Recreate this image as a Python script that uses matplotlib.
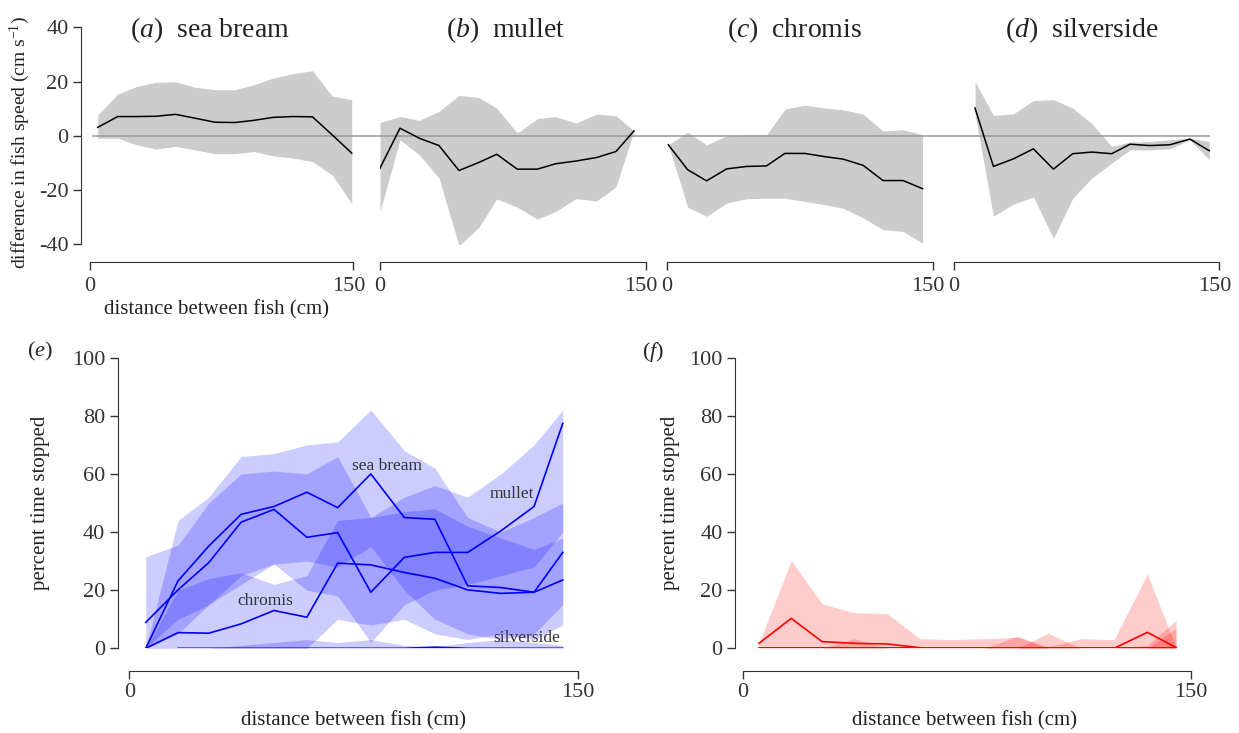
import numpy as np
import matplotlib
matplotlib.use('Agg')
import matplotlib.pyplot as plt
import matplotlib.transforms as mtransforms

plt.rcParams['font.family'] = 'Liberation Serif'
plt.rcParams['mathtext.fontset'] = 'custom'
plt.rcParams['mathtext.rm'] = 'Liberation Serif'
plt.rcParams['mathtext.it'] = 'Liberation Serif:italic'
plt.rcParams['axes.unicode_minus'] = False

TXT = '#333333'

# ---- top row: difference in fish speed (cm/s) vs distance (cm)
xa = [4.4, 15.8, 26.6, 37.4, 48.8, 59.8, 71.2, 82.6, 93.4, 104.4, 115.5, 126.7, 137.9, 149.1]
mid_a = [3.1, 7.1, 7.1, 7.2, 7.9, 6.5, 5.0, 4.9, 5.7, 6.8, 7.1, 7.0, 0.4, -6.4]
hi_a = [7.7, 15.4, 18.2, 19.7, 19.9, 17.9, 17.0, 17.0, 18.8, 21.3, 22.9, 24.0, 14.7, 13.3]
lo_a = [-0.9, -0.9, -3.3, -4.9, -3.9, -5.2, -6.6, -6.6, -5.8, -7.4, -8.2, -9.5, -14.4, -25.0]

xb = [0.0, 11.3, 22.2, 33.3, 44.6, 55.9, 65.9, 77.5, 88.8, 99.2, 110.6, 122.3, 133.2, 143.4]
mid_b = [-11.9, 2.8, -0.9, -3.6, -12.8, -9.8, -6.8, -12.3, -12.3, -10.3, -9.3, -8.0, -5.8, 1.8]
hi_b = [4.9, 7.1, 5.7, 9.0, 14.9, 14.1, 10.2, 1.0, 6.3, 7.1, 4.7, 8.0, 7.4, 1.8]
lo_b = [-27.9, -1.5, -7.0, -15.6, -40.5, -33.7, -23.3, -26.3, -30.7, -27.9, -23.2, -24.0, -18.9, 1.8]

xc = [0.9, 11.8, 22.5, 33.8, 45.0, 56.3, 66.6, 77.9, 89.2, 99.5, 110.8, 122.0, 133.3, 144.3]
mid_c = [-3.3, -12.5, -16.6, -12.2, -11.3, -11.1, -6.5, -6.5, -7.7, -8.6, -10.9, -16.5, -16.5, -19.5]
hi_c = [-3.3, 1.4, -3.3, 0.0, 0.4, 0.4, 9.8, 11.3, 10.2, 9.6, 8.0, 1.8, 2.2, 0.4]
lo_c = [-3.3, -26.3, -29.7, -24.8, -23.2, -23.0, -23.0, -24.2, -25.4, -26.7, -30.3, -34.6, -35.3, -39.6]

xd = [11.9, 22.3, 33.6, 44.9, 56.2, 67.1, 77.9, 89.2, 99.5, 110.8, 122.1, 133.4, 144.3]
mid_d = [10.2, -11.3, -8.5, -4.8, -12.3, -6.6, -6.0, -6.6, -3.1, -3.6, -3.3, -1.2, -5.5]
hi_d = [20.0, 7.5, 8.1, 13.0, 13.3, 10.2, 4.5, -3.9, -2.3, -2.1, -1.5, -0.9, -2.1]
lo_d = [8.0, -29.6, -25.2, -22.5, -37.8, -23.1, -15.6, -10.1, -5.2, -5.2, -4.8, -1.5, -8.8]

# ---- bottom row: percent time stopped
x_stop = [5.5, 16.3, 26.6, 37.4, 48.4, 59.4, 69.7, 80.8, 92.0, 102.2, 113.2, 124.3, 135.4, 145.0]

bream_e = [0, 23.2, 35.2, 46.1, 48.8, 53.7, 48.4, 60.0, 45.0, 44.4, 21.5, 20.9, 19.3, 33.0]
bream_e_lo = [0, 5, 15, 25, 29, 30, 28, 35, 20, 10, 5, 3, 5, 15]
bream_e_hi = [0, 44, 52, 66, 67, 70, 71, 82, 68, 62, 45, 40, 45, 50]

mullet_e = [8.9, 20.1, 29.5, 43.4, 47.8, 38.2, 39.8, 19.3, 31.3, 33.0, 33.0, 40.4, 48.8, 77.4]
mullet_e_lo = [0, 10, 15, 22, 29, 20, 18, 2, 15, 20, 22, 25, 28, 40]
mullet_e_hi = [31.5, 35.5, 50, 60, 61, 60, 66, 45, 52, 56, 52, 60, 70, 82]

chromis_e = [0, 5.4, 5.2, 8.4, 13.0, 10.7, 29.3, 28.7, 26.1, 24.1, 20.1, 18.9, 19.3, 23.5]
chromis_e_lo = [0, 0, 0, 0, 0, 0, 10, 8, 10, 5, 3, 5, 3, 8]
chromis_e_hi = [0, 20, 24, 26, 22, 25, 44, 45, 47, 48, 42, 38, 34, 38]

silver_e = [np.nan, 0, 0, 0, 0, 0, 0, 0, 0, 0.4, 0, 0, 0, 0]
silver_e_lo = [np.nan, 0, 0, 0, 0, 0, 0, 0, 0, 0, 0, 0, 0, 0]
silver_e_hi = [np.nan, 0, 0, 1, 2, 3, 2, 3, 1, 0.5, 2, 3, 2, 1]

f1 = [1.7, 10.3, 2.3, 1.7, 1.5, 0.2, 0, 0, 0, 0, 0, 0, 5.5, 0.3]
f1_hi = [1.7, 30.2, 15.3, 12.3, 11.9, 3.3, 3.0, 3.3, 3.8, 0.5, 3.3, 3.0, 25.6, 0.3]
f2 = [0, 0, 0, 0, 0, 0, 0, 0, 0, 0, 0, 0, 0, 0]
f2_hi = [0, 0, 0, 3.3, 0, 0, 0, 0, 4.2, 0, 0, 0, 0, 6.9]
f3 = [np.nan, 0, 0, 0, 0, 0, 0, 0, 0, 0, 0, 0, 0, 0]
f3_hi = [np.nan, 0, 0, 0, 0, 0, 0, 0, 0, 5.2, 0, 0, 1.0, 9.7]
zeros_f = [0] * 14

W, H = 1239, 733
fig = plt.figure(figsize=(W / 100, H / 100), dpi=100)
shift_left = mtransforms.ScaledTranslation(-5 / 100, 0, fig.dpi_scale_trans)


def px_axes(x0, x1, ytop, ybot):
    return fig.add_axes([x0 / W, 1 - ybot / H, (x1 - x0) / W, (ybot - ytop) / H])


def style_x(ax, off, pad):
    for s in ['top', 'right']:
        ax.spines[s].set_visible(False)
    ax.spines['bottom'].set_position(('outward', off))
    ax.spines['bottom'].set_bounds(0, 150)
    ax.spines['bottom'].set_color(TXT)
    ax.set_xlim(0, 150)
    ax.set_xticks([0, 150])
    ax.tick_params(axis='x', direction='out', length=6, width=1, colors=TXT,
                   labelsize=16, pad=pad)


def style_y(ax, off):
    ax.spines['left'].set_position(('outward', off))
    ax.spines['left'].set_color(TXT)
    ax.tick_params(axis='y', direction='out', length=6, width=1, colors=TXT,
                   labelsize=16, pad=3)


top = [
    (90, 353.3, xa, mid_a, lo_a, hi_a, 'a', 'sea bream', 0.456),
    (380, 645.7, xb, mid_b, lo_b, hi_b, 'b', 'mullet', 0.474),
    (666.7, 932.7, xc, mid_c, lo_c, hi_c, 'c', 'chromis', 0.482),
    (954, 1219.3, xd, mid_d, lo_d, hi_d, 'd', 'silverside', 0.4825),
]

for i, (x0, x1, x, mid, lo, hi, letter, name, tx) in enumerate(top):
    ax = px_axes(x0, x1, 27.3, 244.3)
    ax.fill_between(x, lo, hi, color='#cccccc', lw=0, zorder=1)
    ax.plot(x, mid, color='black', lw=1.1, zorder=3)
    ax.set_ylim(-40, 40)
    style_x(ax, 12.5, 5)
    # grey zero line running across the row
    if i < len(top) - 1:
        xmax = (top[i + 1][0] - x0) / (x1 - x0)
    else:
        xmax = (1209.3 - x0) / (x1 - x0)
    xmin = 0.01 if i == 0 else 0
    ax.axhline(0, xmin=xmin, xmax=xmax, color='#999999', lw=1.1, zorder=2, clip_on=False)
    ax.text(tx, 0.985, r'($\mathit{%s}$)  %s' % (letter, name), transform=ax.transAxes,
            ha='center', va='center', fontsize=20, color='#222222')
    if i == 0:
        style_y(ax, 6.5)
        ax.set_yticks([-40, -20, 0, 20, 40])
        ax.set_ylabel(r'difference in fish speed (cm s$^{-1}$)', fontsize=14, color='#222222')
        ax.yaxis.set_label_coords(-0.222, 0.47)
        ax.set_xlabel('distance between fish (cm)', fontsize=15, color='#222222')
        ax.xaxis.set_label_coords(0.482, -0.255)
    else:
        ax.spines['left'].set_visible(False)
        ax.set_yticks([])
    lab150 = ax.get_xticklabels()[1]
    lab150.set_transform(lab150.get_transform() + shift_left)

# ---- panel e
blue = '#0000ff'
ax_e = px_axes(129.3, 577.7, 357.7, 648.3)
for lo, hi in [(mullet_e_lo, mullet_e_hi), (bream_e_lo, bream_e_hi),
               (chromis_e_lo, chromis_e_hi), (silver_e_lo, silver_e_hi)]:
    ax_e.fill_between(x_stop, lo, hi, color=blue, alpha=0.2, lw=0)
for y in [bream_e, mullet_e, chromis_e, silver_e]:
    ax_e.plot(x_stop, y, color=blue, lw=1.2)
ax_e.set_ylim(0, 100)
style_x(ax_e, 16, 3)
style_y(ax_e, 8.4)
ax_e.set_yticks([0, 20, 40, 60, 80, 100])
ax_e.set_ylabel('percent time stopped', fontsize=15, color='#222222')
ax_e.yaxis.set_label_coords(-0.177, 0.5)
ax_e.set_xlabel('distance between fish (cm)', fontsize=15, color='#222222')
ax_e.xaxis.set_label_coords(0.499, -0.215)
for lab, lx, ly in [('sea bream', 86.2, 62.7), ('mullet', 128.0, 53.1),
                    ('chromis', 45.4, 16.2), ('silverside', 133.1, 3.6)]:
    ax_e.text(lx, ly, lab, ha='center', va='center', fontsize=12.5, color='#333333')
ax_e.text(-0.2, 1.02, r'($\mathit{e}$)', transform=ax_e.transAxes, ha='center',
          va='center', fontsize=16, color='#222222')

# ---- panel f
red = '#ff0000'
ax_f = px_axes(742.5, 1191, 357.7, 648.3)
for hi in [f1_hi, f2_hi, f3_hi, zeros_f]:
    ax_f.fill_between(x_stop, zeros_f, hi, color=red, alpha=0.2, lw=0)
for y in [f2, f3, zeros_f, f1]:
    ax_f.plot(x_stop, y, color=red, lw=1.2)
ax_f.set_ylim(0, 100)
style_x(ax_f, 16, 3)
style_y(ax_f, 5.3)
ax_f.set_yticks([0, 20, 40, 60, 80, 100])
ax_f.set_ylabel('percent time stopped', fontsize=15, color='#222222')
ax_f.yaxis.set_label_coords(-0.139, 0.5)
ax_f.set_xlabel('distance between fish (cm)', fontsize=15, color='#222222')
ax_f.xaxis.set_label_coords(0.496, -0.215)
ax_f.text(-0.2, 1.02, r'($\mathit{f}$)', transform=ax_f.transAxes, ha='center',
          va='center', fontsize=16, color='#222222')

fig.savefig('out.png', dpi=100)
